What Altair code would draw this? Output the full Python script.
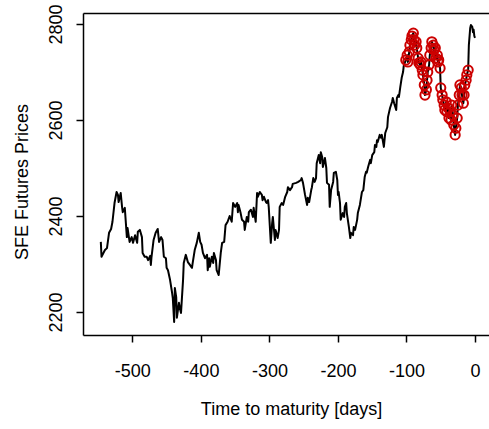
import altair as alt
import pandas as pd

# SFE futures settlement prices against days remaining to maturity.
days_a = [-546, -545, -540, -537, -534, -531, -529, -526, -523, -521, -520, -517, -515,
          -514, -511, -508, -507, -504, -501, -499, -496, -493, -492, -489, -486, -485,
          -482, -479, -477, -474, -473, -472, -469, -466, -463, -461, -458, -456, -454]
prices_a = [2346, 2315, 2329, 2333, 2365, 2373, 2388, 2427, 2450, 2444, 2429, 2448, 2419,
            2408, 2417, 2356, 2375, 2346, 2356, 2344, 2360, 2344, 2367, 2371, 2356, 2323,
            2315, 2315, 2308, 2317, 2298, 2315, 2350, 2365, 2373, 2346, 2356, 2350, 2315]

days_b = [-451, -450, -448, -445, -442, -441, -439, -438, -436, -435, -432, -431, -429,
          -426, -425, -422, -419, -416, -413, -412, -409, -406, -403, -401, -399, -397,
          -394, -391, -390, -388, -387, -384, -382, -381, -378, -377, -374, -371, -369,
          -366, -364, -361, -358]
prices_b = [2312, 2292, 2287, 2267, 2240, 2229, 2179, 2250, 2231, 2188, 2219, 2210, 2198,
            2267, 2302, 2319, 2304, 2298, 2292, 2302, 2329, 2344, 2365, 2346, 2340, 2323,
            2312, 2319, 2287, 2312, 2294, 2315, 2302, 2323, 2308, 2287, 2277, 2323, 2344,
            2346, 2381, 2388, 2400]

days_c = [-355, -353, -350, -347, -346, -345, -342, -340, -337, -336, -333, -331, -330,
          -327, -324, -323, -320, -318, -317, -314, -311, -310, -308, -305, -304, -302,
          -301, -298, -296, -295, -292, -291, -288, -286, -285, -282, -280, -277, -274,
          -273, -270, -267, -266]
prices_c = [2388, 2427, 2419, 2427, 2408, 2423, 2406, 2392, 2388, 2371, 2398, 2388, 2408,
            2413, 2398, 2417, 2388, 2448, 2440, 2450, 2444, 2433, 2440, 2429, 2427, 2433,
            2419, 2344, 2385, 2398, 2350, 2371, 2354, 2371, 2419, 2427, 2423, 2440, 2450,
            2460, 2454, 2460, 2467]

days_d = [-261, -258, -254, -253, -251, -248, -245, -244, -242, -239, -238, -236, -234,
          -232, -231, -228, -226, -225, -223, -222, -219, -217, -216, -213, -212, -210,
          -207, -206, -203, -201, -200, -199, -197, -196, -193, -191, -190, -188, -187,
          -184, -182, -181, -178, -177, -175, -172, -171, -168]
prices_d = [2469, 2471, 2475, 2479, 2469, 2444, 2423, 2438, 2429, 2454, 2460, 2479, 2471,
            2479, 2510, 2527, 2510, 2533, 2523, 2502, 2521, 2500, 2469, 2465, 2419, 2454,
            2471, 2490, 2492, 2475, 2444, 2450, 2427, 2392, 2406, 2398, 2419, 2427, 2406,
            2377, 2354, 2365, 2360, 2377, 2371, 2392, 2406, 2423]

days_e = [-165, -163, -161, -159, -158, -156, -153, -152, -150, -147, -146, -144, -143,
          -142, -139, -137, -136, -133, -131, -128, -127, -124, -121, -120, -118, -115,
          -114, -112, -111, -109, -107, -105, -104]
prices_e = [2450, 2454, 2481, 2492, 2490, 2502, 2517, 2510, 2527, 2533, 2548, 2544, 2558,
            2554, 2569, 2563, 2569, 2544, 2573, 2585, 2606, 2625, 2638, 2646, 2635, 2621,
            2646, 2652, 2648, 2669, 2688, 2700, 2713]

days_f = [-102, -101, -99, -98, -96, -95, -93, -92, -90, -89, -88, -86, -85, -83, -82,
          -80, -79, -77, -76, -74, -73, -71, -70, -69, -67, -66, -64, -63, -61, -60,
          -58, -57, -55, -54, -53, -51, -50, -48, -47, -45, -44, -42, -41, -39, -38,
          -36, -35, -34, -32, -31, -29, -28, -26, -25, -23, -22, -20, -19, -17, -16,
          -15, -13, -12, -10]
prices_f = [2721, 2725, 2735, 2721, 2742, 2756, 2767, 2775, 2781, 2767, 2756, 2763, 2750,
            2729, 2719, 2715, 2721, 2704, 2694, 2673, 2652, 2663, 2683, 2700, 2715, 2735,
            2750, 2763, 2756, 2746, 2750, 2729, 2735, 2721, 2725, 2708, 2667, 2652, 2642,
            2631, 2621, 2638, 2617, 2625, 2604, 2617, 2600, 2631, 2610, 2590, 2569, 2583,
            2604, 2631, 2652, 2673, 2667, 2652, 2635, 2652, 2673, 2683, 2694, 2704]

days_g = [-9, -7, -6, -4, -3, -2, -1, 0]
prices_g = [2756, 2792, 2798, 2794, 2783, 2788, 2775, 2771]

# window of observations flagged with circles
MARK_FROM = -101
MARK_TO = -10

x_ticks = [-500, -400, -300, -200, -100, 0]
y_ticks = [2200, 2400, 2600, 2800]

days = days_a + days_b + days_c + days_d + days_e + days_f + days_g
prices = prices_a + prices_b + prices_c + prices_d + prices_e + prices_f + prices_g
df = pd.DataFrame({"day": days, "price": prices})

FONT = "Liberation Sans"
PLAIN = "datum.value + ''"  # plain integers, ASCII hyphen for negatives
x_scale = alt.Scale(domain=[-572, 20.4], nice=False, zero=False)
y_scale = alt.Scale(domain=[2152, 2823], nice=False, zero=False)

y_axis = alt.Axis(
    values=y_ticks, title="SFE Futures Prices", grid=False, labelExpr=PLAIN,
    domain=True, domainColor="black", domainWidth=1.5,
    ticks=True, tickSize=7, tickWidth=1.5, tickColor="black",
    labelAngle=270, labelAlign="center", labelBaseline="alphabetic",
    labelPadding=14.5, labelFont=FONT, labelFontSize=18, labelColor="black",
    labelOverlap=False,
    titleAngle=270, titleAlign="center", titleBaseline="alphabetic",
    titleX=-56, titleY=168.5, titleFont=FONT, titleFontSize=18,
    titleFontWeight="normal", titleColor="black",
)

x_axis = alt.Axis(
    values=x_ticks, title="Time to maturity [days]", grid=False, labelExpr=PLAIN,
    domain=True, domainColor="black", domainWidth=1.5,
    ticks=True, tickSize=7, tickWidth=1.5, tickColor="black",
    labelBaseline="alphabetic", labelPadding=34, labelFont=FONT,
    labelFontSize=18, labelColor="black", labelFlush=False, labelOverlap=False,
    titleAlign="center", titleBaseline="alphabetic", titleX=208, titleY=79.5,
    titleFont=FONT, titleFontSize=18, titleFontWeight="normal", titleColor="black",
)

# top frame edge
top_axis = alt.Axis(
    orient="top", grid=False, ticks=False, labels=False, title="",
    domain=True, domainColor="black", domainWidth=1.5,
)

base = alt.Chart(df)

line = base.mark_line(color="black", strokeWidth=2, strokeJoin="round").encode(
    x=alt.X("day:Q", scale=x_scale, axis=x_axis),
    y=alt.Y("price:Q", scale=y_scale, axis=y_axis),
)

marks = base.transform_filter(
    (alt.datum.day >= MARK_FROM) & (alt.datum.day <= MARK_TO)
).mark_point(
    shape="circle", filled=False, color="#CC0000", size=85, strokeWidth=2, opacity=1
).encode(
    x=alt.X("day:Q", scale=x_scale, axis=top_axis),
    y=alt.Y("price:Q", scale=y_scale, axis=y_axis),
)

chart = (
    alt.layer(line, marks)
    .resolve_axis(x="independent")
    .properties(
        width=406, height=322,
        autosize=alt.AutoSizeParams(type="none"),
        padding={"left": 83, "top": 13, "right": 0, "bottom": 94},
        background="white",
    )
    .configure_view(stroke="transparent")
)

chart.save("out.html", embed_options={"renderer": "svg", "actions": False})
